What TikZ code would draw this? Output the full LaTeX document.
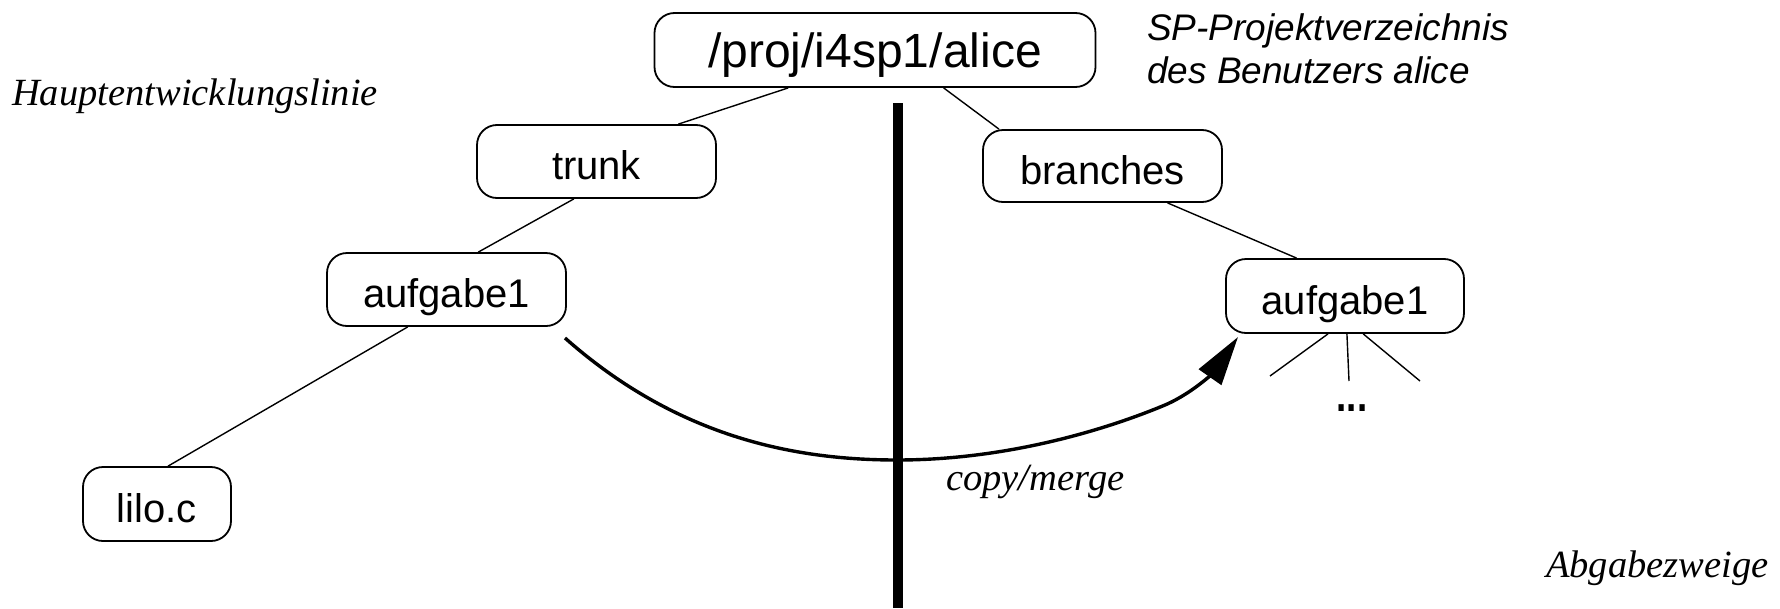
\documentclass[tikz,border=0pt]{standalone}
\usepackage{fontspec}
\setmainfont{Liberation Serif}
\setsansfont{Liberation Sans}
\usetikzlibrary{arrows.meta,calc}
\tikzset{
  dirbox/.style={draw, line width=1.8pt, rounded corners=20pt, inner sep=0pt,
    text height=36pt, text depth=0pt,
    font=\sffamily\fontsize{40}{40}\selectfont},
  edge/.style={line width=1.4pt},
  note/.style={inner sep=0pt, font=\rmfamily\itshape\fontsize{38.5}{40}\selectfont},
  spnote/.style={inner sep=0pt, anchor=base west, font=\sffamily\itshape\fontsize{37}{40}\selectfont},
}
\begin{document}
\begin{tikzpicture}[x=1pt,y=-1pt]
\useasboundingbox (0,0) rectangle (1780,608);
% nodes
\node[dirbox, minimum width=441pt, minimum height=74pt, text height=34pt,
      font=\sffamily\fontsize{48}{48}\selectfont] (root) at (875,50) {/proj/i4sp1/alice};
\node[dirbox, minimum width=239pt, minimum height=73pt] (trunk) at (596.5,161.5) {trunk};
\node[dirbox, minimum width=239pt, minimum height=72pt] (branches) at (1102.5,166) {branches};
\node[dirbox, minimum width=239pt, minimum height=73pt] (aufgL) at (446.5,289.5) {aufgabe1};
\node[dirbox, minimum width=238pt, minimum height=74pt] (aufgR) at (1345,296) {aufgabe1};
\node[dirbox, minimum width=148pt, minimum height=74pt] (lilo) at (157,504) {lilo.c};
% labels
\node[spnote] (sp) at (1147,40) {SP-Projektverzeichnis};
\node[spnote] (spb) at (1147,83) {des Benutzers alice};
\node[note, anchor=base west] (haupt) at (12,105) {Hauptentwicklungslinie};
\node[note, anchor=base west] (copy) at (946,490) {copy/merge};
\node[note, anchor=base west] (abgabe) at (1546,577) {Abgabezweige};
\node[inner sep=0pt, font=\sffamily\bfseries\fontsize{46}{46}\selectfont] (dots) at (1352,408) {\scalebox{0.8}[1]{...}};
% tree edges
\draw[edge] ($(root.south west)!0.304!(root.south east)$) -- ($(trunk.north west)!0.84!(trunk.north east)$);
\draw[edge] ($(root.south west)!0.655!(root.south east)$) -- ($(branches.north west)!0.07!(branches.north east)$);
\draw[edge] ($(trunk.south west)!0.406!(trunk.south east)$) -- ($(aufgL.north west)!0.632!(aufgL.north east)$);
\draw[edge] ($(aufgL.south west)!0.339!(aufgL.south east)$) -- ($(lilo.north west)!0.574!(lilo.north east)$);
\draw[edge] ($(branches.south west)!0.77!(branches.south east)$) -- ($(aufgR.north west)!0.298!(aufgR.north east)$);
% children of right aufgabe1
\coordinate (c1) at (1270,376);
\coordinate (c2) at (1349,381);
\coordinate (c3) at (1420,381);
\draw[edge] ($(aufgR.south west)!0.429!(aufgR.south east)$) -- (c1);
\draw[edge] ($(aufgR.south west)!0.508!(aufgR.south east)$) -- (c2);
\draw[edge] ($(aufgR.south west)!0.576!(aufgR.south east)$) -- (c3);
% separator
\coordinate (septop) at (898,103);
\coordinate (sepbot) at (898,608);
\draw[line width=10pt] (septop) -- (sepbot);
% copy/merge arrow
\coordinate (cs) at (565,338);
\coordinate (cm) at (897,460);
\coordinate (ck) at (1165,405);
\coordinate (ce) at (1238,337);
\draw[line width=3.4pt, -{Triangle[length=49pt,width=27pt]}]
  (cs) .. controls (680,440) and (800,460) .. (cm)
       .. controls (1010,460) and (1110,428) .. (ck)
       .. controls (1195,392) and (1215,370) .. (ce);
\end{tikzpicture}
\end{document}
